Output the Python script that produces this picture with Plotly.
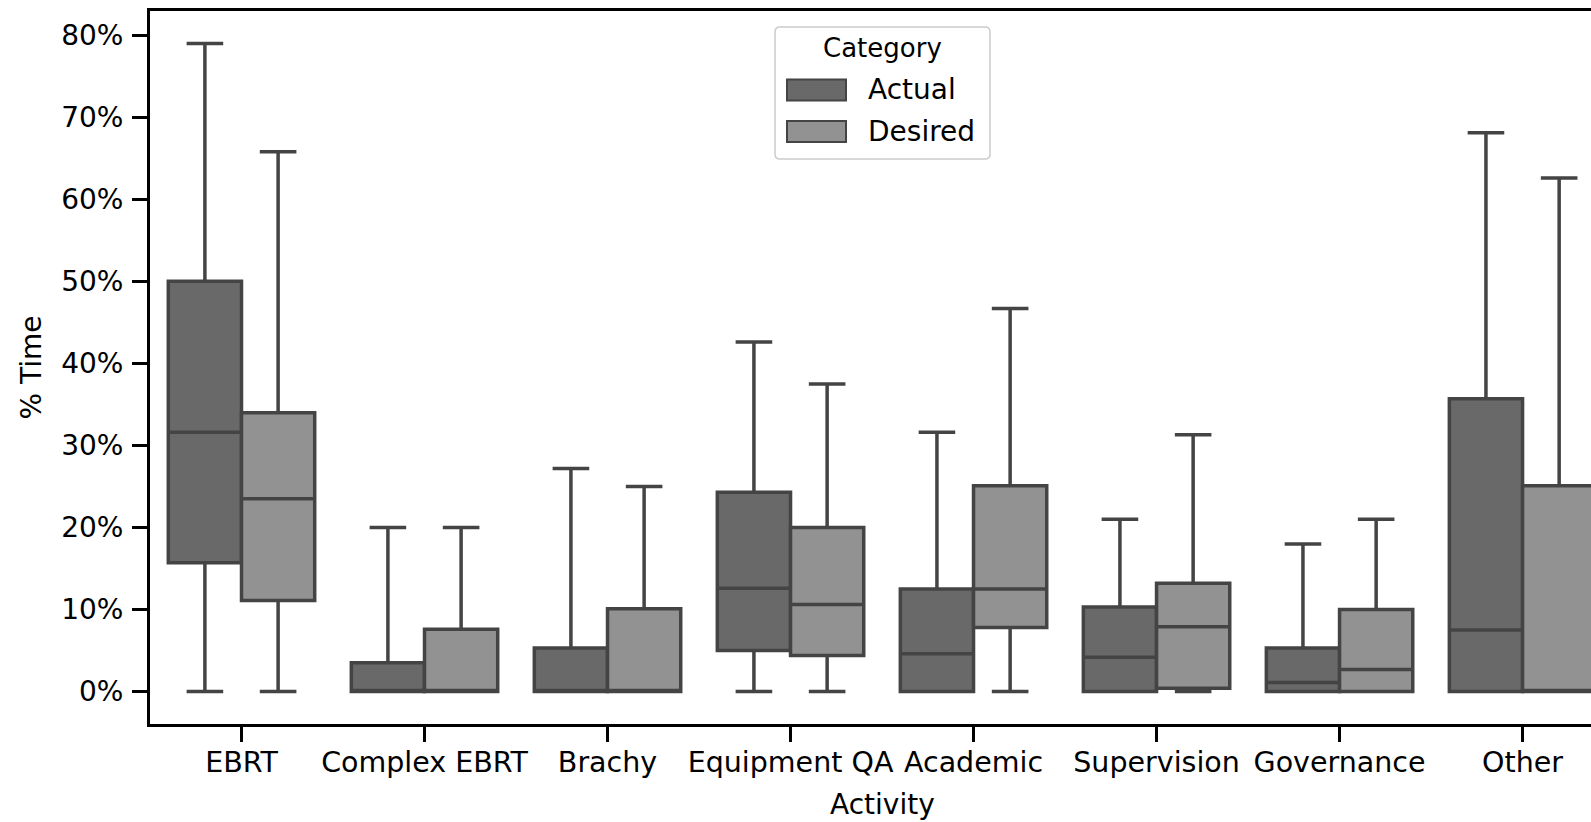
import plotly.graph_objects as go

# ---------------- data (percent of time) ----------------
categories = ["EBRT", "Complex EBRT", "Brachy", "Equipment QA", "Academic",
              "Supervision", "Governance", "Other"]

actual_lower = [0, 0, 0, 0, 0, 0, 0, 0]
actual_q1 = [15.7, 0, 0, 5.0, 0, 0, 0, 0]
actual_median = [31.6, 0, 0, 12.6, 4.6, 4.2, 1.1, 7.5]
actual_q3 = [50.0, 3.5, 5.3, 24.3, 12.5, 10.3, 5.3, 35.7]
actual_upper = [79.0, 20.0, 27.2, 42.6, 31.6, 21.0, 18.0, 68.1]

desired_lower = [0, 0, 0, 0, 0, 0, 0, 0]
desired_q1 = [11.1, 0, 0, 4.4, 7.8, 0.4, 0, 0]
desired_median = [23.5, 0, 0, 10.6, 12.5, 7.9, 2.7, 0]
desired_q3 = [34.0, 7.6, 10.1, 20.0, 25.1, 13.2, 10.0, 25.1]
desired_upper = [65.8, 20.0, 25.0, 37.5, 46.7, 31.3, 21.0, 62.6]

y_ticks = [0, 10, 20, 30, 40, 50, 60, 70, 80]
y_tick_labels = ["0%", "10%", "20%", "30%", "40%", "50%", "60%", "70%", "80%"]

# ---------------- styling ----------------
FONT = "DejaVu Sans"
ACTUAL_FILL = "#696969"
DESIRED_FILL = "#929292"
EDGE = "#444444"

W, H = 1591, 822
ML, MR, MT, MB = 150, 0, 11, 98
PW, PH = W - ML - MR, H - MT - MB


def px(x):
    return (x - ML) / PW


def py(y):
    return (H - MB - y) / PH


fig = go.Figure()

fig.add_trace(go.Box(
    name="Actual", x=categories,
    q1=actual_q1, median=actual_median, q3=actual_q3,
    lowerfence=actual_lower, upperfence=actual_upper,
    fillcolor=ACTUAL_FILL, line=dict(color=EDGE, width=3.5),
    whiskerwidth=0.5, boxpoints=False, offsetgroup="a", showlegend=False,
))
fig.add_trace(go.Box(
    name="Desired", x=categories,
    q1=desired_q1, median=desired_median, q3=desired_q3,
    lowerfence=desired_lower, upperfence=desired_upper,
    fillcolor=DESIRED_FILL, line=dict(color=EDGE, width=3.5),
    whiskerwidth=0.5, boxpoints=False, offsetgroup="d", showlegend=False,
))

# ---------------- legend (drawn) ----------------
def rounded_rect(x0, y0, x1, y1, r):
    X0, X1 = px(x0), px(x1)
    Y0, Y1 = py(y0), py(y1)  # Y0 top (larger), Y1 bottom
    rx, ry = r / PW, r / PH
    return (f"M {X0+rx},{Y0} L {X1-rx},{Y0} Q {X1},{Y0} {X1},{Y0-ry} "
            f"L {X1},{Y1+ry} Q {X1},{Y1} {X1-rx},{Y1} "
            f"L {X0+rx},{Y1} Q {X0},{Y1} {X0},{Y1+ry} "
            f"L {X0},{Y0-ry} Q {X0},{Y0} {X0+rx},{Y0} Z")


shapes = [
    dict(type="path", xref="paper", yref="paper",
         path=rounded_rect(775, 27, 990, 159, 5),
         fillcolor="rgba(255,255,255,0.8)", line=dict(color="#cccccc", width=1.5)),
    dict(type="rect", xref="paper", yref="paper",
         x0=px(787), x1=px(846), y0=py(100.5), y1=py(79.5),
         fillcolor=ACTUAL_FILL, line=dict(color=EDGE, width=2)),
    dict(type="rect", xref="paper", yref="paper",
         x0=px(787), x1=px(846), y0=py(142), y1=py(121),
         fillcolor=DESIRED_FILL, line=dict(color=EDGE, width=2)),
]

annotations = [
    dict(text="Category", xref="paper", yref="paper", x=px(882.5), y=py(48),
         xanchor="center", yanchor="middle", showarrow=False,
         font=dict(family=FONT, size=26, color="black")),
    dict(text="Actual", xref="paper", yref="paper", x=px(866), y=py(90),
         xanchor="left", yanchor="middle", showarrow=False,
         font=dict(family=FONT, size=28, color="black")),
    dict(text="Desired", xref="paper", yref="paper", x=px(866), y=py(131.5),
         xanchor="left", yanchor="middle", showarrow=False,
         font=dict(family=FONT, size=28, color="black")),
    dict(text="Activity", xref="x", yref="paper", x=3.5, y=py(804),
         xanchor="center", yanchor="middle", showarrow=False,
         font=dict(family=FONT, size=28, color="black")),
]

fig.update_layout(
    width=W, height=H,
    margin=dict(l=ML, r=MR, t=MT, b=MB, pad=0),
    paper_bgcolor="white", plot_bgcolor="white",
    boxmode="group", boxgap=0.2, boxgroupgap=0,
    showlegend=False,
    font=dict(family=FONT, size=28, color="black"),
    shapes=shapes, annotations=annotations,
)

fig.update_xaxes(
    type="category", categoryorder="array", categoryarray=categories,
    range=[-0.5, 7.374],
    showline=True, linecolor="black", linewidth=3, mirror=True,
    ticks="outside", ticklen=15, tickwidth=3, tickcolor="black",
    showgrid=False, zeroline=False,
    tickfont=dict(family=FONT, size=28.5, color="black"),
    ticklabelstandoff=-4,
)
fig.update_yaxes(
    range=[-3.95, 82.95],
    tickmode="array", tickvals=y_ticks, ticktext=y_tick_labels,
    showline=True, linecolor="black", linewidth=3, mirror=False,
    ticks="outside", ticklen=15, tickwidth=3, tickcolor="black",
    showgrid=False, zeroline=False,
    tickfont=dict(family=FONT, size=28, color="black"),
    ticklabelstandoff=3,
    title=dict(text="% Time", font=dict(family=FONT, size=28, color="black"),
               standoff=12),
)

fig.write_html("out.html")
